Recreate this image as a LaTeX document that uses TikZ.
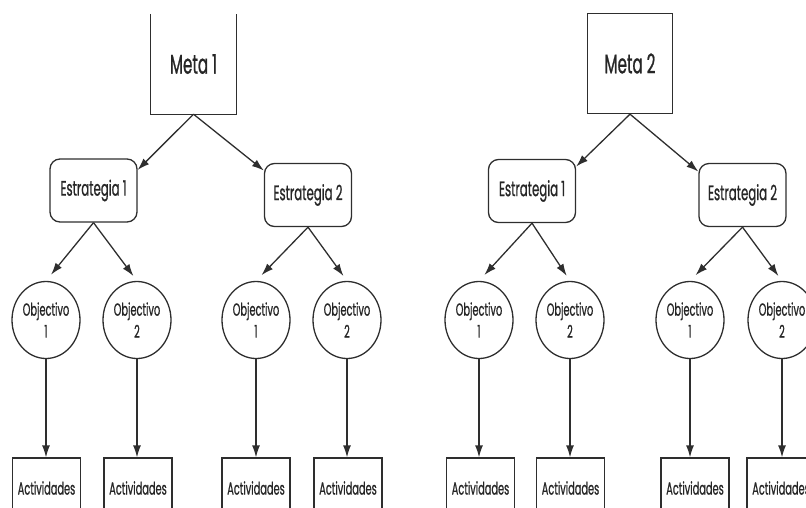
\documentclass[tikz,border=0pt]{standalone}
\usepackage{fontspec}
\usetikzlibrary{shapes.geometric,arrows.meta}
\newfontfamily\diagfont[FakeStretch=0.56,FakeBold=0.8]{Poppins}
\definecolor{ink}{HTML}{2E2E2E}
\tikzset{
  x=1pt, y=-1pt,
  every node/.style={font=\diagfont, text=black!85},
  metabox/.style={rectangle, minimum width=85pt, minimum height=100pt, inner sep=0pt, font=\diagfont\fontsize{27}{30}\selectfont},
  estbox/.style={draw=ink, line width=1.3pt, rectangle, rounded corners=10pt, minimum width=87pt, minimum height=63pt, inner sep=0pt, font=\diagfont\fontsize{21}{24}\selectfont},
  objnode/.style={draw=ink, line width=1.3pt, ellipse, minimum width=68pt, minimum height=77pt, inner sep=0pt, align=center, font=\diagfont\fontsize{17.5}{22}\selectfont},
  actbox/.style={draw=ink, line width=1.3pt, rectangle, minimum width=68pt, minimum height=60pt, inner sep=0pt, font=\diagfont\fontsize{17.5}{20}\selectfont},
  arr/.style={draw=ink, line width=1.3pt, -{Latex[length=12pt,width=8pt]}}
}
\begin{document}
\begin{tikzpicture}
\useasboundingbox (0,0) rectangle (806,507);
\clip (0,0) rectangle (806,507);
% ---------- Tree 1 ----------
\node[metabox] (m1) at (193.5,64) {Meta 1};
\draw[ink, line width=1.3pt] (m1.north west) -- (m1.south west) -- (m1.south east) -- (m1.north east);
\node[estbox] (e11) at (93.5,190.5) {Estrategia 1};
\node[estbox] (e12) at (308,195) {Estrategia 2};
\node[objnode] (o11) at (46,320) {Objectivo\\1};
\node[objnode] (o12) at (137,320) {Objectivo\\2};
\node[objnode] (o13) at (256,320) {Objectivo\\1};
\node[objnode] (o14) at (347,320) {Objectivo\\2};
\node[actbox] (a11) at (46.5,488) {Actividades};
\node[actbox] (a12) at (138,488) {Actividades};
\node[actbox] (a13) at (256,488) {Actividades};
\node[actbox] (a14) at (348,488) {Actividades};
\draw[arr] (m1.south) -- (e11.25);
\draw[arr] (m1.south) -- (e12.151);
\draw[arr, shorten >=8pt] (e11.south) -- (o11.north);
\draw[arr, shorten >=6pt] (e11.south) -- (o12.north);
\draw[arr, shorten >=8pt] (e12.south) -- (o13.north);
\draw[arr, shorten >=6pt] (e12.south) -- (o14.north);
\draw[arr] (o11.south) -- (a11.north -| o11.south);
\draw[arr] (o12.south) -- (a12.north -| o12.south);
\draw[arr] (o13.south) -- (a13.north -| o13.south);
\draw[arr] (o14.south) -- (a14.north -| o14.south);
% ---------- Tree 2 ----------
\node[metabox, draw=ink, line width=1.3pt] (m2) at (630,63.5) {Meta 2};
\node[estbox] (e21) at (532,191) {Estrategia 1};
\node[estbox] (e22) at (742.5,195) {Estrategia 2};
\node[objnode] (o21) at (479,320) {Objectivo\\1};
\node[objnode] (o22) at (570,320) {Objectivo\\2};
\node[objnode] (o23) at (690,320) {Objectivo\\1};
\node[objnode] (o24) at (782,320) {Objectivo\\2};
\node[actbox] (a21) at (480.5,488) {Actividades};
\node[actbox] (a22) at (570.5,488) {Actividades};
\node[actbox] (a23) at (695,488) {Actividades};
\node[actbox] (a24) at (781,488) {Actividades};
\draw[arr] (m2.south) -- (e21.29);
\draw[arr] (m2.south) -- (e22.152);
\draw[arr, shorten >=8pt] (e21.south) -- (o21.north);
\draw[arr, shorten >=6pt] (e21.south) -- (o22.north);
\draw[arr, shorten >=8pt] (e22.south) -- (o23.north);
\draw[arr, shorten >=6pt] (e22.south) -- (o24.north);
\draw[arr] (o21.south) -- (a21.north -| o21.south);
\draw[arr] (o22.south) -- (a22.north -| o22.south);
\draw[arr] (o23.south) -- (a23.north -| o23.south);
\draw[arr] (o24.south) -- (a24.north -| o24.south);
\end{tikzpicture}
\end{document}
